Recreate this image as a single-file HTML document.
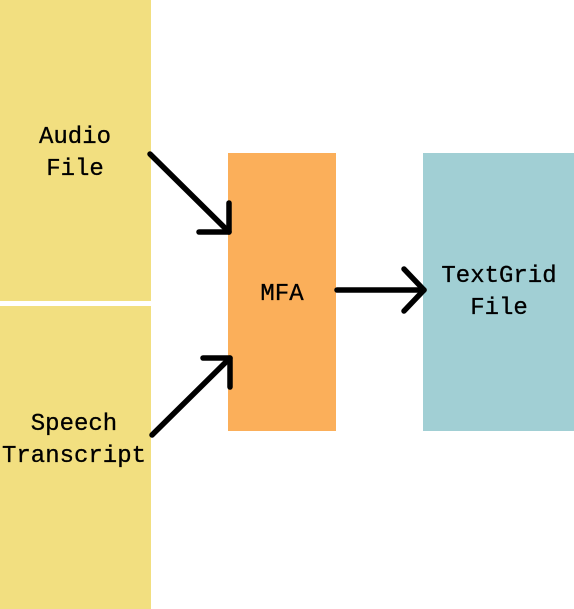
<!DOCTYPE html>
<html><head><style>
html,body{margin:0;padding:0;background:#fff;width:574px;height:609px;overflow:hidden;}
</style></head><body>
<svg width="574" height="609" xmlns="http://www.w3.org/2000/svg">
<rect x="0" y="0" width="151" height="301" fill="#f2df80"/>
<rect x="0" y="306" width="151" height="303" fill="#f2df80"/>
<rect x="228" y="153" width="108" height="278" fill="#fbaf5a"/>
<rect x="423" y="153" width="151" height="278" fill="#a1cfd4"/>
<g font-family="Liberation Mono, monospace" font-size="24" fill="#000" text-anchor="middle" stroke="#000" stroke-width="0.3">
<text x="75" y="143">Audio</text>
<text x="75" y="175">File</text>
<text x="74" y="430">Speech</text>
<text x="74" y="462">Transcript</text>
<text x="282" y="300">MFA</text>
<text x="499" y="282">TextGrid</text>
<text x="499" y="314">File</text>
</g>
<g stroke="#000" stroke-width="5.5" stroke-linecap="round" stroke-linejoin="round" fill="none">
<path d="M150 154 L229 232"/><path d="M229 203 L229 232 L199 232"/>
<path d="M152 435 L230 358"/><path d="M203 358 L230 358 L230 387"/>
<path d="M337 290 L424 290"/><path d="M404 269 L424 290 L404 311"/>
</g>
</svg>
</body></html>
